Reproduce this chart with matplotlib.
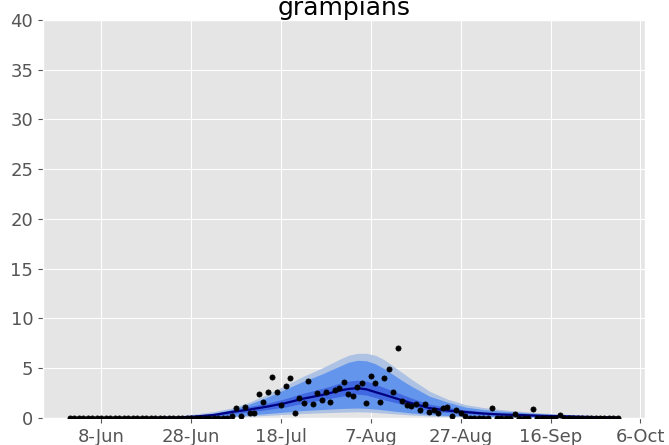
import numpy as np
import matplotlib
matplotlib.use("Agg")
import matplotlib.pyplot as plt

# --- データ ---
start_date = np.datetime64("2020-06-01")

# 観測値（1日ごと、6/1 から）
obs_values = [0.0] * 36 + [
    0.2, 1.03, 0.2, 1.07, 0.53, 0.53, 2.44, 1.57, 2.6, 4.14,
    2.57, 1.34, 3.24, 3.98, 0.53, 2.04, 1.54, 3.67, 1.4, 2.54,
    1.84, 2.6, 1.64, 2.8, 3.04, 3.57, 2.4, 2.17, 3.14, 3.5,
    1.5, 4.18, 3.54, 1.64, 3.98, 4.95, 2.57, 7.08, 1.7, 1.27,
    1.2, 1.4, 0.8, 1.4, 0.63, 0.8, 0.5, 1.0, 1.07, 0.23,
    0.77, 0.5, 0.17, 0.0, 0.0, 0.0, 0.0, 0.0, 0.97, 0.0,
    0.0, 0.0, 0.0, 0.37, 0.0, 0.0, 0.0, 0.94, 0.0, 0.0,
    0.0, 0.0, 0.0, 0.33, 0.0, 0.0, 0.0, 0.0, 0.0, 0.0,
    0.0, 0.0, 0.0, 0.0, 0.0, 0.0, 0.0,
]

# 予測バンド（6/1 からの日数）
band_days = [0, 15, 20, 24, 28, 32, 36, 40, 44, 48, 52, 56, 58, 60, 62, 64, 66,
             68, 70, 72, 74, 76, 80, 84, 88, 92, 96, 100, 105, 110, 116, 122]
median = [0, 0, 0.02, 0.05, 0.15, 0.3, 0.6, 0.85, 1.15, 1.5, 1.95, 2.3, 2.52, 2.75, 2.92, 3.0, 2.88,
          2.6, 2.33, 2.05, 1.77, 1.5, 1.0, 0.75, 0.6, 0.45, 0.35, 0.3, 0.22, 0.17, 0.1, 0.05]
inner_hi = [0, 0, 0.03, 0.08, 0.2, 0.42, 0.8, 1.15, 1.5, 1.95, 2.5, 2.95, 3.2, 3.5, 3.7, 3.8, 3.7,
            3.4, 3.05, 2.7, 2.35, 2.0, 1.4, 1.05, 0.82, 0.62, 0.48, 0.38, 0.28, 0.2, 0.12, 0.06]
inner_lo = [0, 0, 0.01, 0.03, 0.1, 0.2, 0.42, 0.6, 0.85, 1.1, 1.5, 1.8, 1.98, 2.15, 2.3, 2.4, 2.3,
            2.05, 1.82, 1.6, 1.37, 1.15, 0.75, 0.55, 0.45, 0.33, 0.26, 0.22, 0.16, 0.12, 0.07, 0.03]
mid_hi = [0, 0, 0.06, 0.15, 0.3, 0.5, 0.85, 1.4, 2.1, 2.9, 3.7, 4.4, 4.8, 5.2, 5.6, 5.8, 5.75,
          5.45, 4.95, 4.35, 3.75, 3.2, 2.2, 1.6, 1.1, 0.85, 0.7, 0.57, 0.42, 0.32, 0.18, 0.08]
mid_lo = [0, 0, 0, 0.01, 0.04, 0.08, 0.18, 0.3, 0.45, 0.6, 0.75, 0.85, 0.9, 0.95, 0.98, 1.0, 0.97,
          0.9, 0.8, 0.7, 0.6, 0.5, 0.35, 0.25, 0.2, 0.15, 0.12, 0.1, 0.07, 0.05, 0.03, 0.01]
outer_hi = [0, 0, 0.08, 0.2, 0.4, 0.65, 1.0, 1.6, 2.4, 3.3, 4.2, 5.0, 5.45, 5.9, 6.3, 6.5, 6.5,
            6.3, 5.85, 5.2, 4.55, 3.9, 2.7, 1.9, 1.35, 1.05, 0.85, 0.68, 0.5, 0.38, 0.22, 0.1]
outer_lo = [0, 0, 0, 0, 0.02, 0.05, 0.1, 0.18, 0.27, 0.36, 0.45, 0.52, 0.55, 0.58, 0.6, 0.62, 0.6,
            0.55, 0.49, 0.43, 0.37, 0.3, 0.21, 0.15, 0.12, 0.09, 0.07, 0.06, 0.04, 0.03, 0.02, 0.01]

tick_dates = ["2020-06-08", "2020-06-28", "2020-07-18", "2020-08-07",
              "2020-08-27", "2020-09-16", "2020-10-06"]
tick_labels = ["8-Jun", "28-Jun", "18-Jul", "7-Aug", "27-Aug", "16-Sep", "6-Oct"]

# --- 日付に変換 ---
obs_dates = start_date + np.arange(len(obs_values))
band_dates = start_date + np.array(band_days)

# --- プロット ---
plt.style.use("ggplot")
fig = plt.figure(figsize=(6.69, 4.45), dpi=100)
ax = fig.add_axes([0.0643, 0.0607, 0.8997, 0.8944])

ax.fill_between(band_dates, outer_lo, outer_hi, color="#aec2e3", lw=0)
ax.fill_between(band_dates, mid_lo, mid_hi, color="cornflowerblue", lw=0)
ax.fill_between(band_dates, inner_lo, inner_hi, color="royalblue", lw=0)
ax.plot(band_dates, median, color="navy", lw=1.6)
ax.scatter(obs_dates, obs_values, s=14, color="black", zorder=5)

ax.set_title("grampians", fontsize=18, pad=3)
ax.set_ylim(0, 40)
ax.set_yticks(range(0, 41, 5))
ax.set_xlim(start_date - np.timedelta64(6, "D"), np.datetime64("2020-10-07"))
ax.set_xticks([np.datetime64(d) for d in tick_dates])
ax.set_xticklabels(tick_labels)
ax.tick_params(labelsize=13, colors="#555555")

fig.savefig("out.png", dpi=100)
plt.close()
